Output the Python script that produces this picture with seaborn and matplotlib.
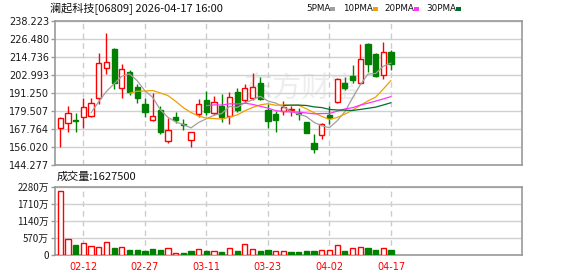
import numpy as np
import pandas as pd
import matplotlib
matplotlib.use("Agg")
import matplotlib.pyplot as plt
from matplotlib.patches import Rectangle
import seaborn as sns

# ---------------- data ----------------
dates = ["02-09", "02-10", "02-11", "02-12", "02-13", "02-16", "02-20", "02-23", "02-24", "02-25",
         "02-26", "02-27", "03-02", "03-03", "03-04", "03-05", "03-06", "03-09", "03-10", "03-11",
         "03-12", "03-13", "03-16", "03-17", "03-18", "03-19", "03-20", "03-23", "03-24", "03-25",
         "03-26", "03-27", "03-30", "03-31", "04-01", "04-02", "04-08", "04-09", "04-10", "04-13",
         "04-14", "04-15", "04-16", "04-17"]
opens = [168.4, 171.7, 173.6, 176.0, 176.6, 188.0, 207.6, 220.0, 194.5, 205.0,
         195.2, 184.3, 173.8, 180.4, 160.3, 175.8, 171.0, 160.8, 177.7, 186.9,
         178.6, 183.0, 176.6, 192.3, 186.9, 188.0, 198.2, 180.4, 177.7, 179.9,
         180.5, 178.5, 172.3, 158.6, 163.9, 177.1, 185.4, 198.2, 202.5, 197.8,
         223.4, 216.9, 203.2, 218.0]
closes = [174.9, 178.2, 173.0, 182.1, 184.7, 210.8, 211.9, 197.8, 206.9, 192.3,
          188.4, 179.2, 176.6, 166.2, 167.3, 173.8, 170.3, 165.8, 184.1, 179.2,
          185.4, 176.0, 189.0, 180.4, 194.5, 195.2, 187.5, 173.4, 173.8, 182.1,
          181.0, 178.0, 165.5, 154.7, 171.0, 174.9, 200.4, 194.9, 199.9, 213.4,
          210.2, 202.5, 218.4, 210.4]
highs = [175.6, 182.8, 178.2, 188.0, 188.0, 217.3, 230.4, 221.0, 210.4, 206.5,
         197.1, 188.0, 191.3, 183.2, 174.9, 178.9, 174.5, 166.0, 187.5, 192.9,
         189.5, 190.8, 192.3, 194.5, 197.1, 204.3, 202.1, 184.3, 179.9, 186.2,
         183.0, 181.5, 172.7, 164.5, 171.7, 183.2, 201.0, 201.7, 209.7, 223.4,
         223.9, 217.3, 224.5, 219.5]
lows = [156.4, 166.2, 166.2, 168.4, 176.0, 184.3, 203.8, 193.9, 188.0, 189.9,
        185.1, 176.0, 173.2, 164.7, 159.0, 171.7, 167.3, 156.4, 176.0, 177.1,
        177.1, 172.7, 171.0, 179.2, 184.7, 186.9, 186.9, 168.8, 165.8, 177.1,
        176.6, 173.8, 165.2, 152.5, 161.2, 171.0, 184.7, 193.4, 197.8, 197.1,
        205.3, 201.7, 200.4, 206.5]
# volume in 万 shares
volumes_wan = [2137, 534, 334, 390, 312, 267, 423, 245, 267, 167,
               167, 134, 200, 178, 223, 67, 67, 134, 189, 134,
               134, 111, 223, 134, 378, 200, 145, 167, 122, 122,
               90, 90, 134, 134, 167, 167, 334, 134, 223, 267,
               234, 167, 234, 162.75]

price_ticks = [144.277, 156.020, 167.764, 179.507, 191.250, 202.993, 214.736, 226.480, 238.223]
price_tick_labels = ["144.277", "156.020", "167.764", "179.507", "191.250",
                     "202.993", "214.736", "226.480", "238.223"]
vol_ticks = [0, 570, 1140, 1710, 2280]
vol_tick_labels = ["0", "570万", "1140万", "1710万", "2280万"]
date_ticks = ["02-12", "02-27", "03-11", "03-23", "04-02", "04-17"]
ma_windows = [5, 10, 20, 30]
ma_names = ["5PMA", "10PMA", "20PMA", "30PMA"]
ma_colors = ["#a0a0a0", "#f0a000", "#ff33ff", "#006e2e"]
title = "澜起科技[06809] 2026-04-17 16:00"

# ---------------- style ----------------
sns.set_style("white")
plt.rcParams["font.family"] = ["DejaVu Sans", "Noto Sans CJK SC"]
CJK = ["Noto Sans CJK SC", "DejaVu Sans"]
RED = "#ff0000"
GREEN = "#008000"
SPINE = "#999999"

W, H = 578, 276
fig = plt.figure(figsize=(W / 100, H / 100), dpi=100)
fig.patch.set_facecolor("white")


def fx(px):
    return px / W


def fy(py):
    return 1 - py / H


L, R = 54.7, 522.0
ax = fig.add_axes([fx(L), fy(165.3), fx(R) - fx(L), fy(21.3) - fy(165.3)])
axv = fig.add_axes([fx(L), fy(255.0), fx(R) - fx(L), fy(186.7) - fy(255.0)])

n = len(dates)
x = np.arange(n)
o = np.array(opens)
c = np.array(closes)
h = np.array(highs)
lo = np.array(lows)
v = np.array(volumes_wan, dtype=float)
up = c >= o
tick_pos = [dates.index(d) for d in date_ticks]
xlim = (-0.73, 60.04)

# ---------------- price panel ----------------
wick_colors = [RED if u else GREEN for u in up]
ax.vlines(x, lo, h, colors=wick_colors, lw=1, zorder=3)
body_bottom = np.minimum(o, c)
body_h = np.maximum(np.abs(c - o), 0.3)
ax.bar(x[up], body_h[up], bottom=body_bottom[up], width=0.68,
       facecolor="white", edgecolor=RED, lw=1, zorder=4)
ax.bar(x[~up], body_h[~up], bottom=body_bottom[~up], width=0.68,
       facecolor=GREEN, edgecolor=GREEN, lw=1, zorder=4)

close_s = pd.Series(c)
rows = []
for wdw, name in zip(ma_windows, ma_names):
    ma = close_s.rolling(wdw).mean()
    for i, val in enumerate(ma):
        if not np.isnan(val):
            rows.append({"idx": i, "value": val, "ma": name})
ma_df = pd.DataFrame(rows)
sns.lineplot(data=ma_df, x="idx", y="value", hue="ma", hue_order=ma_names,
             palette=dict(zip(ma_names, ma_colors)), lw=0.9, legend=False,
             ax=ax, zorder=5)

ax.set_xlim(*xlim)
ax.set_ylim(price_ticks[0], price_ticks[-1])
ax.set_yticks(price_ticks)
ax.set_yticklabels(price_tick_labels)
ax.set_xticks(tick_pos)
ax.set_xticklabels([])
ax.set_xlabel("")
ax.set_ylabel("")
ax.set_axisbelow(True)
ax.grid(axis="y", color="#d0d0d0", lw=1, ls="-")
ax.grid(axis="x", color="#cccccc", lw=1, ls=(0, (4, 3)))
ax.tick_params(axis="y", length=3, width=1, color=SPINE, pad=1,
               labelsize=7, labelcolor="#1a1a1a", left=True)
ax.tick_params(axis="x", length=0)
for s in ax.spines.values():
    s.set_color(SPINE)
    s.set_linewidth(1.2)

# watermark
ax.text(0.53, 0.535, "东方财富", transform=ax.transAxes, ha="center", va="center",
        fontsize=21, color="#ededed", family=CJK, zorder=0.5)

# ---------------- volume panel ----------------
vol_up = np.empty(n, dtype=bool)
vol_up[0] = c[0] >= o[0]
vol_up[1:] = c[1:] >= c[:-1]
axv.bar(x[vol_up], v[vol_up], width=0.68, facecolor="white", edgecolor=RED, lw=1, zorder=3)
axv.bar(x[~vol_up], v[~vol_up], width=0.68, facecolor=GREEN, edgecolor=GREEN, lw=1, zorder=3)
axv.set_xlim(*xlim)
axv.set_ylim(vol_ticks[0], vol_ticks[-1])
axv.set_yticks(vol_ticks)
axv.set_yticklabels(vol_tick_labels, family=CJK)
axv.set_xticks(tick_pos)
axv.set_xticklabels(date_ticks)
axv.set_axisbelow(True)
axv.grid(axis="y", color="#d0d0d0", lw=1, ls="-")
axv.grid(axis="x", color="#cccccc", lw=1, ls=(0, (4, 3)))
axv.tick_params(axis="y", length=3, width=1, color=SPINE, pad=1,
                labelsize=7, labelcolor="#1a1a1a", left=True)
axv.tick_params(axis="x", length=0, pad=5, labelsize=7, labelcolor=RED)
for s in axv.spines.values():
    s.set_color(SPINE)
    s.set_linewidth(1.2)

# ---------------- texts ----------------
fig.text(fx(50), fy(8.5), title, ha="left", va="center", fontsize=8,
         family=CJK, color="#111111")
fig.text(fx(57), fy(177), f"成交量:{int(round(volumes_wan[-1] * 1e4))}", ha="left",
         va="center", fontsize=8, family=CJK, color="#111111")

legend_text_x = [306, 343, 384, 426]
legend_sq_x = [330, 373, 414, 456]
for name, col, tx, sx in zip(ma_names, ma_colors, legend_text_x, legend_sq_x):
    fig.text(fx(tx), fy(8.5), name, ha="left", va="center", fontsize=6.3, color="#111111")
    fig.add_artist(Rectangle((fx(sx), fy(10.5)), 5 / W, 3.2 / H, transform=fig.transFigure,
                             facecolor=col, edgecolor="none"))

fig.savefig("out.png", dpi=100, facecolor="white")
